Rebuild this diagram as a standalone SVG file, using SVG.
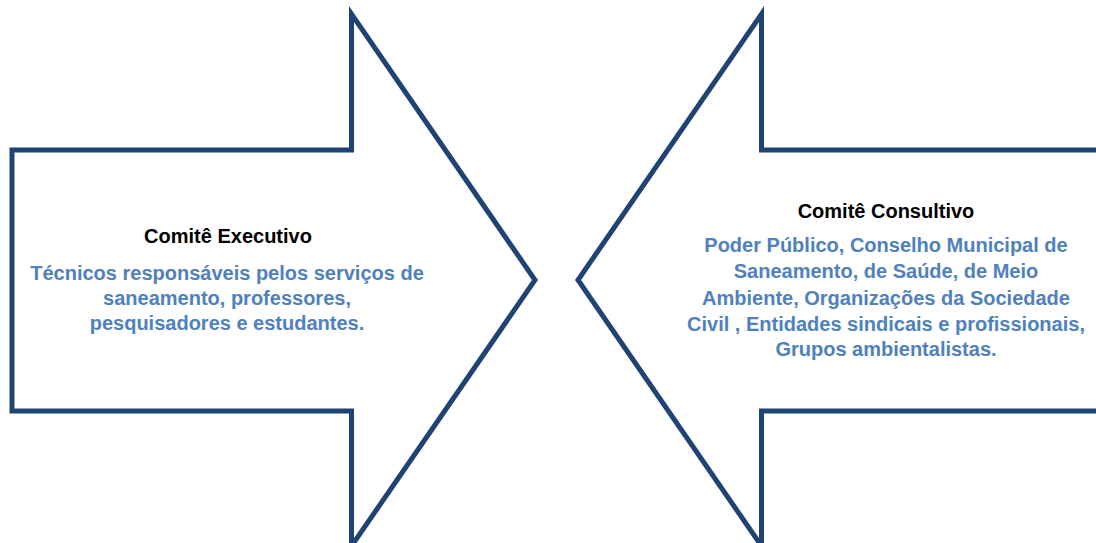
<svg xmlns="http://www.w3.org/2000/svg" width="1096" height="543" viewBox="0 0 1096 543">
<style>
.arrow{fill:#ffffff;stroke:#1F4373;stroke-width:5;stroke-linejoin:miter;stroke-miterlimit:10}
.title{font-family:"Liberation Sans",Arial,sans-serif;font-weight:bold;font-size:20px;fill:#000000;text-anchor:middle}
.body{font-family:"Liberation Sans",Arial,sans-serif;font-weight:bold;font-size:20px;fill:#4F81BD;text-anchor:middle}
</style>
<rect width="1096" height="543" fill="#ffffff"/>
<g id="connectors"></g>
<g id="comite-executivo">
<path class="arrow" d="M12,150 L351.5,150 L351.5,14 L535,280 L351.5,546 L351.5,411 L12,411 Z"/>
<text class="title" x="228" y="243">Comitê Executivo</text>
<text class="body" x="227" y="280">Técnicos responsáveis pelos serviços de</text>
<text class="body" x="227" y="305">saneamento, professores,</text>
<text class="body" x="227" y="330">pesquisadores e estudantes.</text>
</g>
<g id="comite-consultivo">
<path class="arrow" d="M1110,150 L761.5,150 L761.5,14 L578,280 L761.5,546 L761.5,411 L1110,411 Z"/>
<text class="title" x="886" y="218">Comitê Consultivo</text>
<text class="body" x="886" y="252">Poder Público, Conselho Municipal de</text>
<text class="body" x="886" y="278">Saneamento, de Saúde, de Meio</text>
<text class="body" x="886" y="305">Ambiente, Organizações da Sociedade</text>
<text class="body" x="886" y="331">Civil , Entidades sindicais e profissionais,</text>
<text class="body" x="886" y="356">Grupos ambientalistas.</text>
</g>
</svg>
